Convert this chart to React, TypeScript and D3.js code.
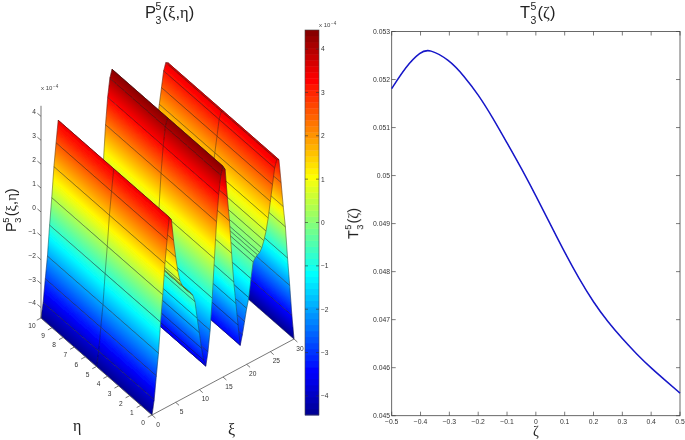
import React from "react";
import * as d3 from "d3";

// ---------- data ----------
const xiStep = 30 / 66;
const surfaceZ = [
  -4.44, -3.85, -2.9, -2.0, -0.75, 0.35, 1.6, 2.55, 3.45, 3.3, 2.4, 1.65, 1.0, 0.55, 0.32, 0.15, 0.03,
  -0.1, -0.2, -0.35, -0.66, -1.4, -2.05, -2.75, -3.3, -3.6, -3.05, -2.2, -0.9, 0.7, 2.2, 3.3, 4.05,
  4.38, 4.2, 3.0, 1.95, 0.55, -0.7, -1.65, -2.6, -3.5, -3.1, -2.6, -2.1, -1.7, -0.95, -0.3, -0.17,
  -0.1, -0.05, 0.1, 0.35, 0.7, 1.2, 1.85, 2.5, 3.15, 3.45, 3.4, 2.4, 1.35, 0.45, -0.9, -2.1, -3.4, -4.44,
];
const etaMesh = [0, 5, 10];
const xiTicks = [0, 5, 10, 15, 20, 25, 30];
const etaTicks = [0, 1, 2, 3, 4, 5, 6, 7, 8, 9, 10];
const zTicks = [-4, -3, -2, -1, 0, 1, 2, 3, 4];
const barTicks = [-4, -3, -2, -1, 0, 1, 2, 3, 4];

const zetaValues = [-0.5, -0.45, -0.4, -0.37, -0.3, -0.25, -0.2, -0.15, -0.1, -0.05, 0, 0.05, 0.1, 0.15, 0.2, 0.25, 0.3, 0.35, 0.4, 0.45, 0.5];
const tValues = [0.05181, 0.05228, 0.05258, 0.05264, 0.05241, 0.05208, 0.05169, 0.05121, 0.05068, 0.05015, 0.04958, 0.04899, 0.0484, 0.04785, 0.04736, 0.04695, 0.0466, 0.04628, 0.04599, 0.04573, 0.04547];
const zetaTicks = [-0.5, -0.4, -0.3, -0.2, -0.1, 0, 0.1, 0.2, 0.3, 0.4, 0.5];
const tTicks = [0.045, 0.046, 0.047, 0.048, 0.049, 0.05, 0.051, 0.052, 0.053];
const zetaLabels = ["\u22120.5", "\u22120.4", "\u22120.3", "\u22120.2", "\u22120.1", "0", "0.1", "0.2", "0.3", "0.4", "0.5"];
const tLabels = ["0.045", "0.046", "0.047", "0.048", "0.049", "0.05", "0.051", "0.052", "0.053"];

const jetStops = ["#00008f", "#0000ff", "#00ffff", "#ffff00", "#ff0000", "#800000"];
const jetPos = [0, 0.111, 0.365, 0.619, 0.873, 1];

// ---------- scales ----------
const Z_MAX = 4.44;
const jet = d3.scaleLinear<string>().domain(jetPos).range(jetStops).interpolate(d3.interpolateRgb).clamp(true);
const levels = d3.range(64).map((i) => jet((i + 0.5) / 64));
const zNorm = d3.scaleLinear().domain([-Z_MAX, Z_MAX]).range([0, 1]);

const xiX = d3.scaleLinear().domain([0, 30]).range([0, 142]);
const xiY = d3.scaleLinear().domain([0, 30]).range([0, -76]);
const etaX = d3.scaleLinear().domain([0, 10]).range([0, -111]);
const etaY = d3.scaleLinear().domain([0, 10]).range([0, -97]);
const zY = d3.scaleLinear().domain([-Z_MAX, Z_MAX]).range([0, -212.2]);
const ORIGIN = [152, 415];
const project = (xi: number, eta: number, z: number): [number, number] => [
  ORIGIN[0] + xiX(xi) + etaX(eta),
  ORIGIN[1] + xiY(xi) + etaY(eta) + zY(z),
];

const barY = d3.scaleLinear().domain([-Z_MAX, Z_MAX]).range([415, 30]);
const tX = d3.scaleLinear().domain([-0.5, 0.5]).range([391.7, 680]);
const tY = d3.scaleLinear().domain([0.045, 0.053]).range([415.7, 31.5]);
const tLine = d3
  .line<number>()
  .x((_, i) => tX(zetaValues[i]))
  .y((d) => tY(d))
  .curve(d3.curveBasis);

const poly = d3.line();

const SANS = "'Liberation Sans', Arial, sans-serif";
const GREEK = "'Liberation Serif', serif";
const TICK = "#444";

function Strip({ i }: { i: number }) {
  const xi0 = i * xiStep;
  const xi1 = (i + 1) * xiStep;
  const z0 = surfaceZ[i];
  const z1 = surfaceZ[i + 1];
  const p0 = project(xi0, 0, z0);
  const p1 = project(xi1, 0, z1);
  // gradient runs across the strip, perpendicular to the eta direction
  const len = Math.hypot(etaX(10), etaY(10));
  const nx = -etaY(10) / len;
  const ny = etaX(10) / len;
  const dot = (p1[0] - p0[0]) * nx + (p1[1] - p0[1]) * ny;
  const flat = Math.abs(dot) < 0.35;
  const id = `g${i}`;
  const k = Math.max(1, Math.ceil(Math.abs(z1 - z0) / 0.25));
  const d = poly([p0, p1, project(xi1, 10, z1), project(xi0, 10, z0)]) + "Z";
  const paint = flat ? (jet(zNorm((z0 + z1) / 2)) as string) : `url(#${id})`;
  const cross = etaMesh.map((e) => poly([project(xi0, e, z0), project(xi1, e, z1)])).join("");
  const first = i === 0 ? "" : (poly([project(xi0, 0, z0), project(xi0, 10, z0)]) as string);
  const last = poly([project(xi1, 0, z1), project(xi1, 10, z1)]);
  return (
    <g>
      {!flat && (
        <linearGradient id={id} gradientUnits="userSpaceOnUse" x1={p0[0]} y1={p0[1]} x2={p0[0] + nx * dot} y2={p0[1] + ny * dot}>
          {d3.range(k + 1).map((s) => (
            <stop key={s} offset={s / k} stopColor={jet(zNorm(z0 + ((z1 - z0) * s) / k)) as string} />
          ))}
        </linearGradient>
      )}
      <path d={d} fill={paint} stroke={paint} strokeWidth={0.35} />
      <path d={cross + first + last} fill="none" stroke="#1c1c1c" strokeOpacity={0.72} strokeWidth={0.55} />
    </g>
  );
}

function Label({ x, y, base, rest, s = 1, rot = false }: { x: number; y: number; base: string; rest: string; s?: number; rot?: boolean }) {
  return (
    <g transform={`translate(${x},${y}) ${rot ? "rotate(-90)" : ""} scale(${s})`} fill="#222">
      <text x={0} y={0} fontFamily={SANS} fontSize={16.5}>{base}</text>
      <text x={10.4} y={-8} fontFamily={SANS} fontSize={10.5}>5</text>
      <text x={10.4} y={6} fontFamily={SANS} fontSize={10.5}>3</text>
      <text x={17.6} y={0} fontFamily={SANS} fontSize={16.5}>
        {rest.split("").map((c, k) => (
          <tspan key={k} fontFamily={"(),".includes(c) ? SANS : GREEK}>{c}</tspan>
        ))}
      </text>
    </g>
  );
}

function Exp({ x, y }: { x: number; y: number }) {
  return (
    <g fontFamily={SANS} fill="#444">
      <text x={x} y={y} fontSize={6}>x 10</text>
      <text x={x + 12} y={y - 2} fontSize={4.5}>{"\u22124"}</text>
    </g>
  );
}

export default function App() {
  const order = d3.range(surfaceZ.length - 2, -1, -1);
  const axisA = project(0, 10, -Z_MAX);
  const axisB = project(0, 10, Z_MAX);
  const o = project(0, 0, -Z_MAX);
  const xEnd = project(30, 0, -Z_MAX);
  return (
    <svg width={685} height={440} style={{ position: "absolute", left: 0, top: 0, background: "#fff" }}>
      <defs>
        <filter id="soft" x="-2%" y="-2%" width="104%" height="104%">
          <feGaussianBlur stdDeviation={0.35} />
        </filter>
      </defs>
      <g filter="url(#soft)">
        {/* left panel */}
        <Label x={145} y={18} base="P" rest="(ξ,η)" />
        {order.map((i) => <Strip key={i} i={i} />)}

        {/* 3D axes */}
        <g stroke="#555" strokeWidth={0.8} fill="none">
          <line x1={axisA[0]} y1={axisA[1]} x2={axisB[0]} y2={axisB[1]} />
          <line x1={axisA[0]} y1={axisA[1]} x2={o[0]} y2={o[1]} />
          <line x1={o[0]} y1={o[1]} x2={xEnd[0]} y2={xEnd[1]} />
          {xiTicks.map((t) => {
            const p = project(t, 0, -Z_MAX);
            return <line key={t} x1={p[0]} y1={p[1]} x2={p[0] + 3.4} y2={p[1] + 3} />;
          })}
          {etaTicks.map((t) => {
            const p = project(0, t, -Z_MAX);
            return <line key={t} x1={p[0]} y1={p[1]} x2={p[0] - 4.2} y2={p[1] + 2.2} />;
          })}
          {zTicks.map((t) => {
            const p = project(0, 10, t);
            return <line key={t} x1={p[0]} y1={p[1]} x2={p[0] - 3.6} y2={p[1] - 3} />;
          })}
        </g>
        <g fontFamily={SANS} fontSize={6.6} fill="#333" textAnchor="middle">
          {xiTicks.map((t) => {
            const p = project(t, 0, -Z_MAX);
            return <text key={t} x={p[0] + 6} y={p[1] + 11.6}>{t}</text>;
          })}
          {etaTicks.map((t) => {
            const p = project(0, t, -Z_MAX);
            return <text key={t} x={p[0] - 9} y={p[1] + 10}>{t}</text>;
          })}
        </g>
        <g fontFamily={SANS} fontSize={6.6} fill="#333" textAnchor="end">
          {zTicks.map((t) => {
            const p = project(0, 10, t);
            return <text key={t} x={36} y={p[1] - 2}>{t < 0 ? `\u2212${-t}` : t}</text>;
          })}
        </g>
        <Exp x={41} y={90} />
        <Label x={16} y={232} base="P" rest="(ξ,η)" s={0.89} rot />
        <text x={73} y={431} fontFamily={GREEK} fontSize={16} fill="#222">η</text>
        <text x={228} y={435} fontFamily={GREEK} fontSize={16} fill="#222">ξ</text>

        {/* colour bar */}
        {levels.map((c, i) => (
          <rect key={i} x={305} width={14} y={barY(-Z_MAX + ((i + 1) * 2 * Z_MAX) / 64)} height={(385 / 64) + 0.4} fill={c} />
        ))}
        <rect x={305} y={30} width={14} height={385} fill="none" stroke="#444" strokeWidth={0.6} />
        {barTicks.map((t) => (
          <g key={t}>
            <line x1={305} x2={308} y1={barY(t)} y2={barY(t)} stroke="#333" strokeWidth={0.6} />
            <line x1={316} x2={319} y1={barY(t)} y2={barY(t)} stroke="#333" strokeWidth={0.6} />
            <text x={321} y={barY(t) + 2.4} fontFamily={SANS} fontSize={6.6} fill="#333">{t < 0 ? `\u2212${-t}` : t}</text>
          </g>
        ))}
        <Exp x={319} y={27} />

        {/* right panel */}
        <Label x={520} y={18} base="T" rest="(ζ)" />
        <rect x={391.7} y={31.5} width={288.3} height={384.2} fill="none" stroke={TICK} strokeWidth={0.8} />
        {zetaTicks.map((t, i) => (
          <g key={t}>
            <line x1={tX(t)} x2={tX(t)} y1={415.7} y2={411.7} stroke={TICK} strokeWidth={0.7} />
            <line x1={tX(t)} x2={tX(t)} y1={31.5} y2={35.5} stroke={TICK} strokeWidth={0.7} />
            <text x={tX(t)} y={423.8} textAnchor="middle" fontFamily={SANS} fontSize={6.8} fill="#333">{zetaLabels[i]}</text>
          </g>
        ))}
        {tTicks.map((t, i) => (
          <g key={t}>
            <line x1={391.7} x2={395.7} y1={tY(t)} y2={tY(t)} stroke={TICK} strokeWidth={0.7} />
            <line x1={680} x2={676} y1={tY(t)} y2={tY(t)} stroke={TICK} strokeWidth={0.7} />
            <text x={390} y={tY(t) + 2.2} textAnchor="end" fontFamily={SANS} fontSize={6.8} fill="#333">{tLabels[i]}</text>
          </g>
        ))}
        <path d={tLine(tValues) as string} fill="none" stroke="#1414c8" strokeWidth={1.5} />
        <Label x={358} y={239} base="T" rest="(ζ)" s={0.88} rot />
        <text x={536} y={435.5} textAnchor="middle" fontFamily={GREEK} fontSize={14} fill="#222">ζ</text>
      </g>
    </svg>
  );
}
